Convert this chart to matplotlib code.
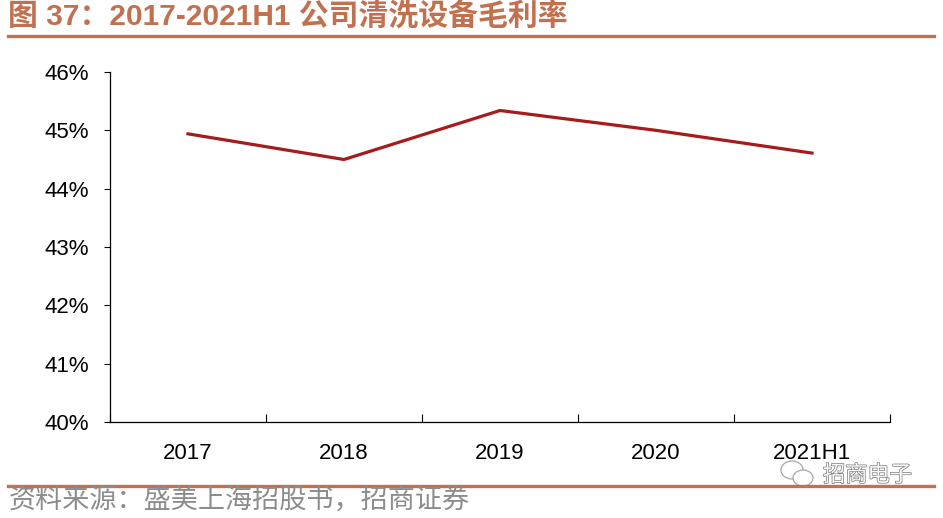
import numpy as np
import matplotlib.pyplot as plt
import matplotlib.patheffects as pe
from matplotlib.ticker import FixedLocator, FuncFormatter
from matplotlib.lines import Line2D
from matplotlib.patches import Ellipse

plt.rcParams['font.family'] = ['Liberation Sans', 'Noto Sans CJK SC', 'DejaVu Sans']

# data
years = ['2017', '2018', '2019', '2020', '2021H1']
gross_margin = [44.94, 44.50, 45.34, 45.00, 44.61]

title_text = '图 37：2017-2021H1 公司清洗设备毛利率'
source_text = '资料来源：盛美上海招股书，招商证券'
brand = '招商电子'

accent = '#C1714F'
line_col = '#A61B1B'

W, H = 943, 518
fig = plt.figure(figsize=(W / 100, H / 100), dpi=100)
ax = fig.add_axes([110 / W, 1 - 422 / H, 780 / W, 350 / H])

x = np.arange(len(years)) + 0.5
ax.plot(x, gross_margin, color=line_col, lw=2.3, solid_joinstyle='miter')

ax.set_xlim(0, len(years))
ax.set_ylim(40, 46)
ax.yaxis.set_major_locator(FixedLocator(np.arange(40, 47, 1)))
ax.yaxis.set_major_formatter(FuncFormatter(lambda v, p: '%d%%' % v))

ax.xaxis.set_major_locator(FixedLocator(np.arange(0, len(years) + 1)))
ax.xaxis.set_major_formatter(FuncFormatter(lambda v, p: ''))
ax.xaxis.set_minor_locator(FixedLocator(x))
ax.set_xticklabels(years, minor=True)

ax.tick_params(axis='x', which='major', direction='in', length=6, width=0.8)
ax.tick_params(axis='x', which='minor', length=0, pad=15, labelsize=16)
ax.tick_params(axis='y', direction='out', length=4, width=0.8, pad=11, labelsize=16)

for s in ['top', 'right']:
    ax.spines[s].set_visible(False)
for s in ['left', 'bottom']:
    ax.spines[s].set_linewidth(0.9)

# header / footer rules
fig.add_artist(Line2D([0.008, 0.99], [1 - 36 / H] * 2, color=accent, lw=2.4))
fig.add_artist(Line2D([0.008, 0.99], [1 - 486 / H] * 2, color=accent, lw=2.4))

fig.text(0.009, 1 - 16 / H, title_text, color=accent, fontsize=21.5,
         fontweight='bold', va='center', ha='left')
fig.text(0.009, 1 - 502 / H, source_text, color='#8c8c8c', fontsize=19.5,
         va='center', ha='left')

# watermark: little chat-bubble icon + name
for cx, cy, w, h in [(792, 470, 22, 18), (803, 478, 20, 16)]:
    fig.add_artist(Ellipse((cx / W, 1 - cy / H), w / W, h / H, transform=fig.transFigure,
                           facecolor='white', edgecolor='#a8a8a8', lw=0.9))
fig.text(912 / W, 1 - 476 / H, brand, color='#fafafa', fontsize=16,
         va='center', ha='right',
         path_effects=[pe.withStroke(linewidth=1.0, foreground='#7a7a7a')])

fig.savefig('out.png', dpi=100)
